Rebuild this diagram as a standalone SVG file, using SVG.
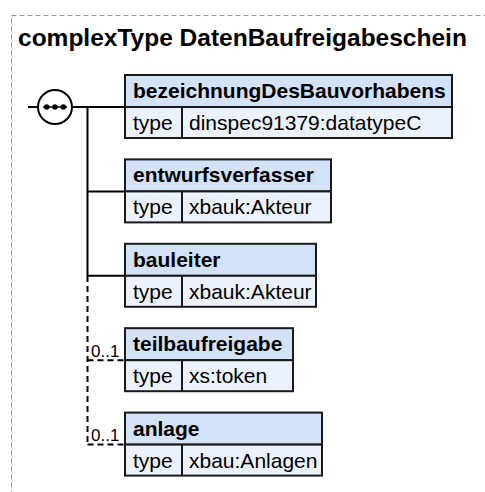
<svg xmlns="http://www.w3.org/2000/svg" width="485" height="492" viewBox="0 0 485 492">
<style>
.frame{fill:none;stroke:#999;stroke-width:1;stroke-dasharray:5,3}
.title{font-family:"Liberation Sans",Arial,sans-serif;font-weight:bold;font-size:24.5px;fill:#000}
.hdr{fill:#d4e2f7;stroke:#1a1a1a;stroke-width:2}
.row{fill:#ebf2fc;stroke:#1a1a1a;stroke-width:2}
.div{stroke:#1a1a1a;stroke-width:2}
.name{font-family:"Liberation Sans",Arial,sans-serif;font-weight:bold;font-size:21px;fill:#000}
.txt{font-family:"Liberation Sans",Arial,sans-serif;font-size:21px;fill:#000}
.ln{fill:none;stroke:#000;stroke-width:2}
.dash{fill:none;stroke:#000;stroke-width:2;stroke-dasharray:6,4}
.card{font-family:"Liberation Sans",Arial,sans-serif;font-size:17px;fill:#000}
</style>
<rect class="frame" x="11.5" y="15.5" width="500" height="500"/>
<text class="title" x="18" y="46">complexType DatenBaufreigabeschein</text>
<g id="connectors">
<line class="ln" x1="28" y1="107" x2="38" y2="107"/>
<line class="ln" x1="72" y1="107" x2="125" y2="107"/>
<line class="ln" x1="87.5" y1="107" x2="87.5" y2="276"/>
<line class="ln" x1="87.5" y1="191.4" x2="125" y2="191.4"/>
<line class="ln" x1="87.5" y1="275.8" x2="125" y2="275.8"/>
<line class="dash" x1="87.5" y1="276" x2="87.5" y2="444.6"/>
<line class="dash" x1="87.5" y1="360.2" x2="125" y2="360.2"/>
<line class="dash" x1="87.5" y1="444.6" x2="125" y2="444.6"/>
<text class="card" x="91" y="357">0..1</text>
<text class="card" x="91" y="441">0..1</text>
</g>
<g id="sequence">
<circle cx="55" cy="107" r="17" fill="#fff" stroke="#000" stroke-width="2"/>
<line x1="43" y1="107" x2="67" y2="107" stroke="#000" stroke-width="1.5"/>
<circle cx="46.7" cy="107" r="2.7" fill="#000"/>
<circle cx="55" cy="107" r="2.7" fill="#000"/>
<circle cx="63.3" cy="107" r="2.7" fill="#000"/>
</g>
<g id="bezeichnungDesBauvorhabens">
<rect class="hdr" x="125" y="75" width="327" height="32"/>
<rect class="row" x="125" y="107" width="327" height="31"/>
<line class="div" x1="182" y1="107" x2="182" y2="138"/>
<text class="name" x="133" y="98">bezeichnungDesBauvorhabens</text>
<text class="txt" x="133" y="130">type</text>
<text class="txt" x="189" y="130">dinspec91379:datatypeC</text>
</g>
<g id="entwurfsverfasser">
<rect class="hdr" x="125" y="159.4" width="206" height="32"/>
<rect class="row" x="125" y="191.4" width="206" height="31"/>
<line class="div" x1="182" y1="191.4" x2="182" y2="222.4"/>
<text class="name" x="133" y="182.4">entwurfsverfasser</text>
<text class="txt" x="133" y="214.4">type</text>
<text class="txt" x="189" y="214.4">xbauk:Akteur</text>
</g>
<g id="bauleiter">
<rect class="hdr" x="125" y="243.8" width="191" height="32"/>
<rect class="row" x="125" y="275.8" width="191" height="31"/>
<line class="div" x1="182" y1="275.8" x2="182" y2="306.8"/>
<text class="name" x="133" y="266.8">bauleiter</text>
<text class="txt" x="133" y="298.8">type</text>
<text class="txt" x="189" y="298.8">xbauk:Akteur</text>
</g>
<g id="teilbaufreigabe">
<rect class="hdr" x="125" y="328.2" width="168" height="32"/>
<rect class="row" x="125" y="360.2" width="168" height="31"/>
<line class="div" x1="182" y1="360.2" x2="182" y2="391.2"/>
<text class="name" x="133" y="351.2">teilbaufreigabe</text>
<text class="txt" x="133" y="383.2">type</text>
<text class="txt" x="189" y="383.2">xs:token</text>
</g>
<g id="anlage">
<rect class="hdr" x="125" y="412.6" width="197" height="32"/>
<rect class="row" x="125" y="444.6" width="197" height="31"/>
<line class="div" x1="182" y1="444.6" x2="182" y2="475.6"/>
<text class="name" x="133" y="435.6">anlage</text>
<text class="txt" x="133" y="467.6">type</text>
<text class="txt" x="189" y="467.6">xbau:Anlagen</text>
</g>
</svg>
